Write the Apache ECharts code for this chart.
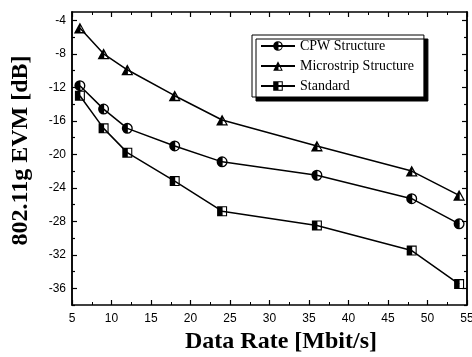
<!DOCTYPE html>
<html>
<head>
<meta charset="utf-8">
<script src="https://cdn.jsdelivr.net/npm/echarts@6/dist/echarts.min.js"></script>
<style>
  html, body { margin: 0; padding: 0; background: #fff; }
  #main { width: 472px; height: 357px; }
</style>
</head>
<body>
<div id="main"></div>
<script>
// data
const rates = [6, 9, 12, 18, 24, 36, 48, 54]
const cpw = [-11.8, -14.6, -16.9, -19.0, -20.9, -22.5, -25.3, -28.3]
const microstrip = [-4.9, -8.0, -9.9, -13.0, -15.9, -19.0, -22.0, -24.9]
const standard = [-13.0, -16.9, -19.8, -23.2, -26.8, -28.5, -31.5, -35.5]
const yMajor = [-36, -32, -28, -24, -20, -16, -12, -8, -4]
const yMinor = [-38, -34, -30, -26, -22, -18, -14, -10, -6]

// half filled markers: outline + filled left half, right half cut out
const halfCircle = 'path://M0,10 A10,10 0 1,1 20,10 A10,10 0 1,1 0,10 Z M11,2.3 L11,17.7 A7.8,7.8 0 0,0 11,2.3 Z'
const halfTriangle = 'path://M10,0 L20,18 L0,18 Z M11,6 L11,15.8 L16.6,15.8 Z'
const halfSquare = 'path://M0,0 L20,0 L20,20 L0,20 Z M11,2.2 L11,17.8 L17.8,17.8 L17.8,2.2 Z'

function pairs (ys) {
  return rates.map((x, i) => [x, ys[i]])
}

const myChart = echarts.init(document.getElementById('main'))

function yAx (pos, vals, len, labels) {
  return {
    type: 'value',
    position: pos,
    min: -38,
    max: -3,
    axisLine: { show: true, lineStyle: { color: '#000', width: 1.5 } },
    axisTick: { show: true, inside: true, length: len, customValues: vals, lineStyle: { color: '#000', width: 1.2 } },
    axisLabel: labels
      ? { show: true, customValues: vals, color: '#000', fontFamily: 'Liberation Sans', fontSize: 12, margin: 6 }
      : { show: false },
    splitLine: { show: false }
  }
}

myChart.setOption({
  animation: false,
  grid: { left: 72, top: 12, right: 5, bottom: 52, containLabel: false, outerBoundsMode: 'none' },
  legend: {
    orient: 'vertical',
    left: 252,
    top: 35,
    padding: [4, 10, 4, 8],
    itemGap: 6,
    itemWidth: 34,
    itemHeight: 12,
    backgroundColor: '#fff',
    borderColor: '#000',
    borderWidth: 1,
    borderRadius: 0,
    shadowColor: '#000',
    shadowBlur: 0,
    shadowOffsetX: 4,
    shadowOffsetY: 4,
    textStyle: { fontFamily: 'Liberation Serif', fontSize: 14, lineHeight: 14, color: '#000' },
    data: ['CPW Structure', 'Microstrip Structure', 'Standard']
  },
  xAxis: [
    {
      type: 'value',
      min: 5,
      max: 55,
      interval: 5,
      name: 'Data Rate [Mbit/s]',
      nameLocation: 'middle',
      nameGap: 24,
      nameTextStyle: { fontFamily: 'Liberation Serif', fontWeight: 'bold', fontSize: 24, color: '#000', padding: [0, 0, 0, 23] },
      axisLine: { show: true, lineStyle: { color: '#000', width: 1.5 } },
      axisTick: { inside: true, length: 5, lineStyle: { color: '#000', width: 1.2 } },
      minorTick: { show: true, splitNumber: 2, length: 3, lineStyle: { color: '#000', width: 1 } },
      axisLabel: { color: '#000', fontFamily: 'Liberation Sans', fontSize: 12, margin: 8 },
      splitLine: { show: false }
    },
    {
      type: 'value',
      position: 'top',
      min: 5,
      max: 55,
      interval: 5,
      axisLine: { show: true, lineStyle: { color: '#000', width: 1.5 } },
      axisTick: { inside: true, length: 5, lineStyle: { color: '#000', width: 1.2 } },
      minorTick: { show: true, splitNumber: 2, length: 3, lineStyle: { color: '#000', width: 1 } },
      axisLabel: { show: false },
      splitLine: { show: false }
    }
  ],
  yAxis: [
    Object.assign(yAx('left', yMajor, 5, true), {
      name: '802.11g EVM [dB]',
      nameLocation: 'middle',
      nameGap: 39,
      nameRotate: 90,
      nameTextStyle: { fontFamily: 'Liberation Serif', fontWeight: 'bold', fontSize: 24, color: '#000', padding: [0, 0, 0, 16] }
    }),
    yAx('left', yMinor, 3, false),
    yAx('right', yMajor, 5, false),
    yAx('right', yMinor, 3, false)
  ],
  series: [
    {
      name: 'CPW Structure',
      type: 'line',
      data: pairs(cpw),
      symbol: halfCircle,
      symbolSize: 11,
      lineStyle: { color: '#000', width: 1.5 },
      itemStyle: { color: '#000' }
    },
    {
      name: 'Microstrip Structure',
      type: 'line',
      data: pairs(microstrip),
      symbol: halfTriangle,
      symbolSize: [12, 11],
      lineStyle: { color: '#000', width: 1.5 },
      itemStyle: { color: '#000' }
    },
    {
      name: 'Standard',
      type: 'line',
      data: pairs(standard),
      symbol: halfSquare,
      symbolSize: 10,
      lineStyle: { color: '#000', width: 1.5 },
      itemStyle: { color: '#000' }
    }
  ]
})
</script>
</body>
</html>
